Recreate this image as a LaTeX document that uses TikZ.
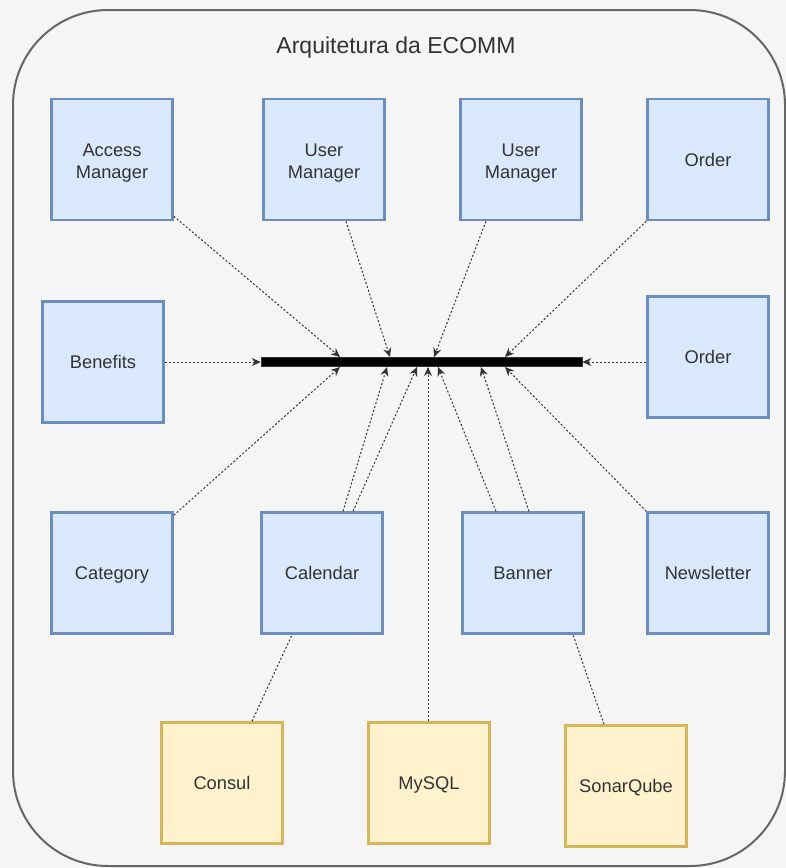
\documentclass[tikz,border=0pt]{standalone}
\usepackage{fontspec}
\setmainfont{Liberation Sans}
\usetikzlibrary{arrows.meta}
\definecolor{bluefill}{HTML}{DAE8FC}
\definecolor{bluedraw}{HTML}{6C8EBF}
\definecolor{yellowfill}{HTML}{FFF2CC}
\definecolor{yellowdraw}{HTML}{D6B656}
\definecolor{outerfill}{HTML}{F5F5F5}
\definecolor{outerdraw}{HTML}{666666}
\definecolor{txt}{HTML}{333333}

\begin{document}
\begin{tikzpicture}[x=1pt,y=-1pt,
                        svc/.style={rectangle,draw=bluedraw,fill=bluefill,line width=2.5pt,minimum size=121pt,inner sep=0pt,align=center,text=txt,text height=13.2pt,text depth=0pt,font=\fontsize{18.3}{22}\selectfont},
                        svctwo/.style={svc,text height=38pt},
                        infra/.style={svc,draw=yellowdraw,fill=yellowfill},
                        link/.style={draw=txt,line width=1pt,dash pattern=on 2pt off 2pt},
                        dep/.style={link,-{Stealth[length=9pt,width=8pt]}}]
                        \useasboundingbox (0,0) rectangle (786,868);
                        \draw [outerfill,fill=outerfill] (0,0) rectangle (786,868);
                        \draw [draw=outerdraw,fill=outerfill,line width=2pt,rounded corners=95pt] (13,10) rectangle (785,866);
                        \node (title) at (396,45) [text=txt,text height=16.6pt,text depth=0pt,font=\fontsize{23}{28}\selectfont] {Arquitetura da ECOMM};
                        \node (bar) at (421.5,362) [rectangle,fill=black,draw=black!80,line width=0.5pt,minimum width=321pt,minimum height=9pt,inner sep=0pt] {};
                        \coordinate (top1) at (340,357);
                        \coordinate (top2) at (390,357);
                        \coordinate (top3) at (434,357);
                        \coordinate (top4) at (505,357);
                        \coordinate (bot1) at (340,367);
                        \coordinate (bot2) at (387,367);
                        \coordinate (bot3) at (417,367);
                        \coordinate (bot4) at (428,367);
                        \coordinate (bot5) at (438,367);
                        \coordinate (bot6) at (481,367);
                        \coordinate (bot7) at (505,367);
                        \node [svctwo] (access) at (112,159.5) {Access\\Manager};
                        \node [svctwo] (userA) at (324,159.5) {User\\Manager};
                        \node [svctwo] (userB) at (521,159.5) {User\\Manager};
                        \node [svc] (orderA) at (708,159.5) {Order};
                        \node [svc] (benefits) at (103,362) {Benefits};
                        \node [svc] (orderB) at (708,357) {Order};
                        \node [svc] (category) at (112,573) {Category};
                        \node [svc] (calendar) at (322,573) {Calendar};
                        \node [svc] (banner) at (523,573) {Banner};
                        \node [svc] (newsletter) at (708,573) {Newsletter};
                        \node [infra] (consul) at (222,783) {Consul};
                        \node [infra] (mysql) at (429,783) {MySQL};
                        \node [infra] (sonar) at (626,786) {SonarQube};
                        \draw [dep] ([yshift=5pt]access.south east) -- (top1);
                        \draw [dep] ([xshift=22pt]userA.south) -- (top2);
                        \draw [dep] ([xshift=-35pt]userB.south) -- (top3);
                        \draw [dep] (orderA.south west) -- (top4);
                        \draw [dep] (benefits.east) -- (bar.west);
                        \draw [dep] (orderB.west |- bar) -- (bar.east);
                        \draw [dep] ([yshift=-4pt]category.north east) -- (bot1);
                        \draw [dep] ([xshift=21pt]calendar.north) -- (bot2);
                        \draw [dep] ([xshift=31pt]calendar.north) -- (bot3);
                        \draw [dep] ([xshift=-1pt]mysql.north) -- (bot4);
                        \draw [dep] ([xshift=-27pt]banner.north) -- (bot5);
                        \draw [dep] ([xshift=6pt]banner.north) -- (bot6);
                        \draw [dep] (newsletter.north west) -- (bot7);
                        \draw [link] ([xshift=30pt]consul.north) -- ([xshift=-30pt]calendar.south);
                        \draw [link] ([xshift=-22pt]sonar.north) -- ([xshift=50pt]banner.south);
                    \end{tikzpicture}
\end{document}
